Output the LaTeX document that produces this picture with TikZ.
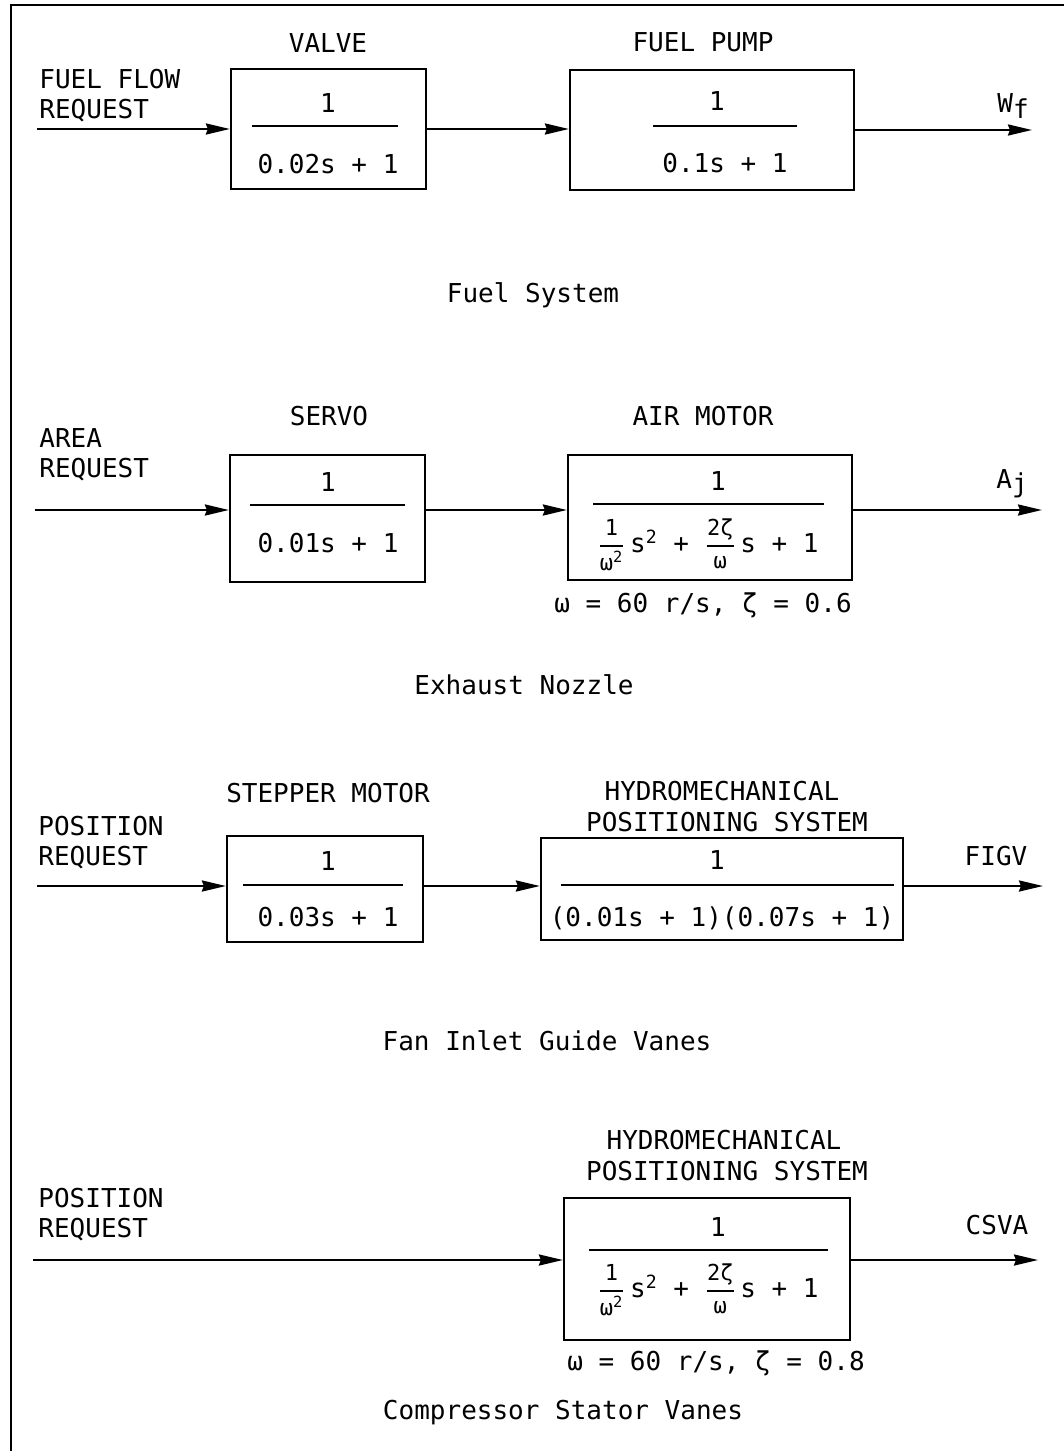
\documentclass[tikz,border=0pt]{standalone}
\usepackage{amsmath}
\usepackage{fontspec}
\setmainfont{DejaVu Sans Mono}
\usetikzlibrary{arrows.meta,fit,positioning}
\tikzset{
  blk/.style={draw,line width=1.1pt,inner sep=0pt},
  sig/.style={line width=1.2pt,-{Stealth[length=12pt,width=5.5pt,inset=1pt]}},
  lbl/.style={inner sep=0pt,anchor=base,font=\fontsize{13pt}{15pt}\selectfont},
  lbll/.style={lbl,anchor=base west,align=left},
  barline/.style={line width=1.1pt},
}
% small inline fraction, as in the second order blocks
\newcommand{\smalltxt}[1]{\text{\fontsize{11pt}{12pt}\selectfont #1}}
\newcommand{\sfr}[2]{$\genfrac{}{}{0.7pt}{0}{\smalltxt{#1}}{\smalltxt{#2}}$}
\newcommand{\secord}{\sfr{1}{ω\textsuperscript{2}}\,s\textsuperscript{2} + \sfr{2ζ}{ω}\,s + 1}

\begin{document}
\begin{tikzpicture}[x=0.5pt,y=-0.5pt]
\useasboundingbox (0,0) rectangle (1064,1451);
\draw[line width=1.4pt] (11,1451) -- (11,5) -- (1064,5);

% fuel system
\node[lbl] (valvet) at (328,52) {VALVE};
\node[lbl] (pumpt) at (703,51) {FUEL PUMP};
\node[lbll] (ffr) at (39,118) {FUEL FLOW\\REQUEST};
\node[blk,fit={(231,69) (426,189)}] (valve) {};
\node[blk,fit={(570,70) (854,190)}] (pump) {};
\node[lbl] (valven) at (328,112) {1};
\draw[barline] (252,126) -- (398,126);
\node[lbl] (valved) at (328,173) {0.02s + 1};
\node[lbl] (pumpn) at (717,110) {1};
\draw[barline] (653,126) -- (797,126);
\node[lbl] (pumpd) at (725,172) {0.1s + 1};
\coordinate (in1) at (37,129);
\coordinate (out1) at (1032,130);
\draw[sig] (in1) -- (valve);
\draw[sig] (valve.east) -- (valve.east -| pump.west);
\draw[sig] (pump.east) -- (out1);
\node[lbl,anchor=base west] (wf) at (997,112) {W\raisebox{-0.45ex}{f}};
\node[lbl] (fuels) at (533,302) {Fuel System};

% exhaust nozzle
\node[lbl] (servot) at (329,425) {SERVO};
\node[lbl] (airt) at (703,425) {AIR MOTOR};
\node[lbll] (ar) at (39,477) {AREA\\REQUEST};
\node[blk,fit={(230,455) (425,582)}] (servo) {};
\node[blk,fit={(568,455) (852,580)}] (air) {};
\node[lbl] (servon) at (328,491) {1};
\draw[barline] (250,505) -- (405,505);
\node[lbl] (servod) at (328,552) {0.01s + 1};
\node[lbl] (airn) at (718,490) {1};
\draw[barline] (593,504) -- (824,504);
\node[lbl] (aird) at (708,552) {\secord};
\coordinate (in2) at (35,510);
\coordinate (out2) at (1042,510);
\draw[sig] (in2) -- (in2 -| servo.west);
\draw[sig] (in2 -| servo.east) -- (in2 -| air.west);
\draw[sig] (in2 -| air.east) -- (out2);
\node[lbl,anchor=base west] (aj) at (996,488) {A\raisebox{-0.35ex}{j}};
\node[lbl] (airp) at (703,612) {ω = 60 r/s, ζ = 0.6};
\node[lbl] (exh) at (524,694) {Exhaust Nozzle};

% fan inlet guide vanes
\node[lbl] (stept) at (328,802) {STEPPER MOTOR};
\node[lbl] (hydt) at (722,800) {HYDROMECHANICAL};
\node[lbl] (hydt2) at (727,831) {POSITIONING SYSTEM};
\node[lbll] (pr) at (38,865) {POSITION\\REQUEST};
\node[blk,fit={(227,836) (423,942)}] (stepper) {};
\node[blk,fit={(541,838) (903,940)}] (hyd) {};
\node[lbl] (stepn) at (328,870) {1};
\draw[barline] (243,885) -- (403,885);
\node[lbl] (stepd) at (328,926) {0.03s + 1};
\node[lbl] (hydn) at (717,869) {1};
\draw[barline] (561,885) -- (894,885);
\node[lbl] (hydd) at (722,926) {(0.01s + 1)(0.07s + 1)};
\coordinate (in3) at (37,886);
\coordinate (out3) at (1043,886);
\draw[sig] (in3) -- (in3 -| stepper.west);
\draw[sig] (in3 -| stepper.east) -- (in3 -| hyd.west);
\draw[sig] (in3 -| hyd.east) -- (out3);
\node[lbl] (figv) at (996,865) {FIGV};
\node[lbl] (fan) at (547,1050) {Fan Inlet Guide Vanes};

% compressor stator vanes
\node[lbl] (csvt) at (724,1149) {HYDROMECHANICAL};
\node[lbl] (csvt2) at (727,1180) {POSITIONING SYSTEM};
\node[lbll] (pr2) at (38,1237) {POSITION\\REQUEST};
\node[blk,fit={(564,1198) (850,1340)}] (csv) {};
\node[lbl] (csvn) at (718,1236) {1};
\draw[barline] (589,1250) -- (828,1250);
\node[lbl] (csvd) at (708,1297) {\secord};
\coordinate (in4) at (33,1260);
\coordinate (out4) at (1038,1260);
\draw[sig] (in4) -- (in4 -| csv.west);
\draw[sig] (in4 -| csv.east) -- (out4);
\node[lbl] (csva) at (997,1234) {CSVA};
\node[lbl] (csvp) at (716,1370) {ω = 60 r/s, ζ = 0.8};
\node[lbl] (comp) at (563,1419) {Compressor Stator Vanes};
\end{tikzpicture}
\end{document}
